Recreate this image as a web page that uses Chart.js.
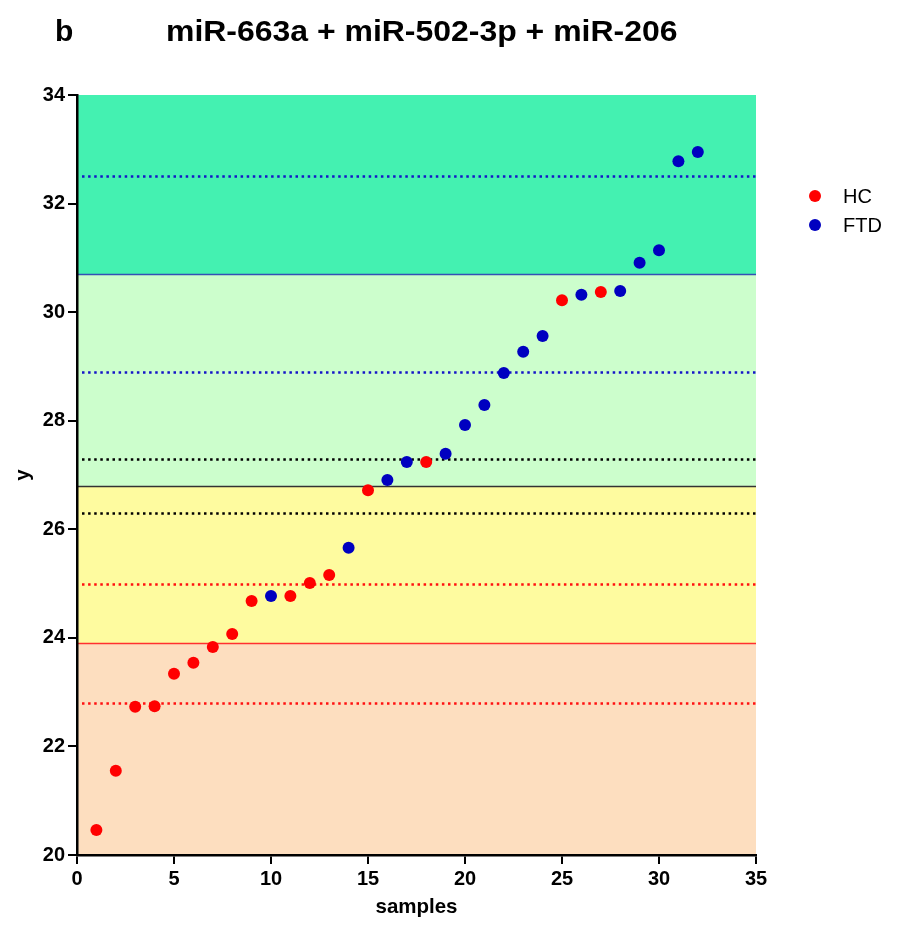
<!DOCTYPE html>
<html><head><meta charset="utf-8">
<script src="https://cdn.jsdelivr.net/npm/chart.js@4.4.0/dist/chart.umd.min.js"></script>
<style>
html,body{margin:0;padding:0;background:#fff;}
#wrap{position:relative;width:909px;height:932px;font-family:"Liberation Sans",Arial,sans-serif;overflow:hidden;}
#c{position:absolute;left:0;top:0;}
.t{position:absolute;font-weight:bold;font-size:30px;line-height:30px;color:#000;white-space:nowrap;transform-origin:0 0;}
.lg{position:absolute;font-size:20px;line-height:20px;color:#000;white-space:nowrap;}
.dot{position:absolute;width:12px;height:12px;border-radius:6px;}
</style></head>
<body>
<div id="wrap">
<canvas id="c" width="909" height="932"></canvas>
<div class="t" style="left:55px;top:16px;">b</div>
<div class="t" style="left:166px;top:16px;transform:scaleX(1.065);">miR-663a + miR-502-3p + miR-206</div>
<div class="dot" style="left:809px;top:190px;background:#FF0000;"></div>
<div class="lg" style="left:843px;top:186px;">HC</div>
<div class="dot" style="left:809px;top:219px;background:#0000C0;"></div>
<div class="lg" style="left:843px;top:215px;">FTD</div>
</div>
<script>
// ---- data ----
const sampleIndex = [1,2,3,4,5,6,7,8,9,10,11,12,13,14,15,16,17,18,19,20,21,22,23,24,25,26,27,28,29,30,31,32];
const sampleValues = [20.46,21.55,22.73,22.74,23.34,23.54,23.83,24.07,24.68,24.77,24.77,25.01,25.16,25.66,26.72,26.91,27.24,27.24,27.39,27.92,28.29,28.88,29.27,29.56,30.22,30.32,30.37,30.39,30.91,31.14,32.78,32.95];
const sampleGroup = ['HC','HC','HC','HC','HC','HC','HC','HC','HC','FTD','HC','HC','HC','FTD','HC','FTD','FTD','HC','FTD','FTD','FTD','FTD','FTD','FTD','HC','FTD','HC','FTD','FTD','FTD','FTD','FTD'];
const groupNames = ['HC','FTD'];
const groupColors = ['#FF0000','#0000C0'];

const bandBounds = [20, 23.9, 26.8, 30.7, 34];
const bandColors = ['#FDDEBF','#FEFB9F','#CCFECC','#44F1B1'];

const refValues = [22.8, 23.9, 25.0, 26.3, 26.8, 27.3, 28.9, 30.7, 32.5];
const refColors = ['#FF1010','#FF3030','#FF1010','#000000','#333333','#000000','#1515C8','#3550B5','#1515C8'];
const refDotted = [true, false, true, true, false, true, true, false, true];

const xTicks = [0,5,10,15,20,25,30,35];
const yTicks = [20,22,24,26,28,30,32,34];

// ---- build datasets ----
const datasets = groupNames.map((g, gi) => ({
  label: g,
  data: sampleIndex.map((x, i) => ({x: x, y: sampleValues[i], g: sampleGroup[i]})).filter(p => p.g === g),
  backgroundColor: groupColors[gi],
  borderWidth: 0,
  pointRadius: 6,
  pointHoverRadius: 6
}));

const bgPlugin = {
  id: 'bands',
  beforeDraw(chart) {
    const {ctx, chartArea: a, scales: {y}} = chart;
    ctx.save();
    for (let i = 0; i < bandColors.length; i++) {
      const top = y.getPixelForValue(bandBounds[i+1]);
      const bot = y.getPixelForValue(bandBounds[i]);
      ctx.fillStyle = bandColors[i];
      ctx.fillRect(a.left, top, a.right - a.left, bot - top);
    }
    for (let i = 0; i < refValues.length; i++) {
      const py = Math.round(y.getPixelForValue(refValues[i])) + 0.5;
      ctx.beginPath();
      ctx.strokeStyle = refColors[i];
      if (refDotted[i]) { ctx.lineWidth = 2.5; ctx.setLineDash([2.5, 3.6]); }
      else { ctx.lineWidth = 1.6; ctx.setLineDash([]); }
      ctx.moveTo(refDotted[i] ? a.left + 5 : a.left, py);
      ctx.lineTo(a.right, py);
      ctx.stroke();
    }
    ctx.restore();
  }
};

const tickFont = {family: '"Liberation Sans", Arial, sans-serif', size: 20, weight: 'bold'};
const titleFont = {family: '"Liberation Sans", Arial, sans-serif', size: 20.5, weight: 'bold'};

new Chart(document.getElementById('c'), {
  type: 'scatter',
  data: {datasets},
  plugins: [bgPlugin],
  options: {
    responsive: false,
    animation: false,
    events: [],
    layout: {padding: {top: 95, right: 153, left: 0, bottom: 0}},
    plugins: {legend: {display: false}, tooltip: {enabled: false}},
    scales: {
      x: {
        type: 'linear', min: 0, max: 35,
        afterBuildTicks: s => { s.ticks = xTicks.map(v => ({value: v})); },
        afterFit: s => { s.height = 77; },
        ticks: {font: tickFont, color: '#000', padding: 3, maxRotation: 0},
        grid: {drawOnChartArea: false, color: '#000', lineWidth: 2, tickLength: 9},
        border: {display: true, color: '#000', width: 2.5},
        title: {display: true, text: 'samples', color: '#000', font: titleFont, padding: {top: 0, bottom: 12}}
      },
      y: {
        type: 'linear', min: 20, max: 34,
        afterBuildTicks: s => { s.ticks = yTicks.map(v => ({value: v})); },
        afterFit: s => { s.width = 77; },
        ticks: {font: tickFont, color: '#000', padding: 3},
        grid: {drawOnChartArea: false, color: '#000', lineWidth: 2, tickLength: 9},
        border: {display: true, color: '#000', width: 2.5},
        title: {display: true, text: 'y', color: '#000', font: titleFont, padding: {top: 11, bottom: 0}}
      }
    }
  }
});
</script>
</body></html>
